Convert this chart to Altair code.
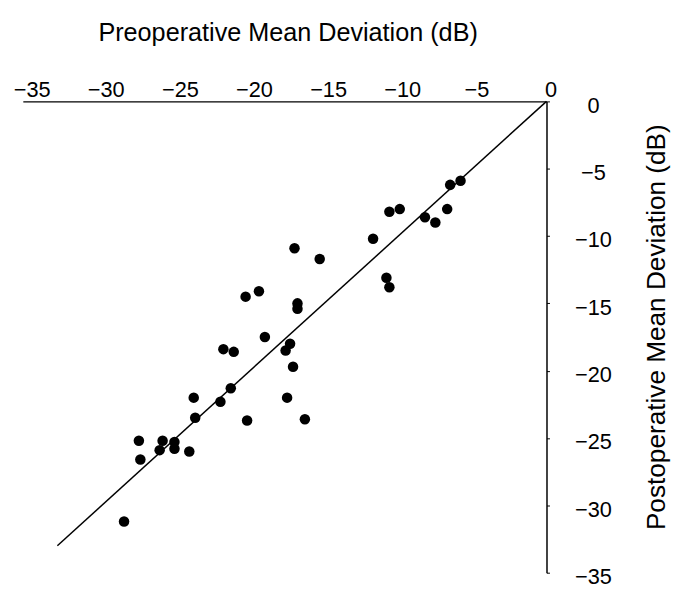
import altair as alt
import pandas as pd

pre_md = [-6.5, -5.8, -10.6, -9.9, -8.2, -7.5, -6.7, -11.7, -17.0, -15.3,
          -10.8, -10.6, -20.3, -19.4, -16.8, -16.8, -19.0, -21.8, -21.1, -17.3,
          -17.6, -17.1, -21.3, -23.8, -22.0, -17.5, -23.7, -20.2, -16.3, -27.5,
          -25.9, -25.1, -26.1, -25.1, -24.1, -27.4, -28.5]
post_md = [-6.2, -5.9, -8.2, -8.0, -8.6, -9.0, -8.0, -10.2, -10.9, -11.7,
           -13.1, -13.8, -14.5, -14.1, -15.0, -15.4, -17.5, -18.4, -18.6, -18.0,
           -18.5, -19.7, -21.3, -22.0, -22.3, -22.0, -23.5, -23.7, -23.6, -25.2,
           -25.2, -25.3, -25.9, -25.8, -26.0, -26.6, -31.2]

line_x = [0, -33]
line_y = [0, -33]

x_ticks = [-35, -30, -25, -20, -15, -10, -5, 0]
y_ticks = [0, -5, -10, -15, -20, -25, -30, -35]

pts = pd.DataFrame({"pre": pre_md, "post": post_md})
ln = pd.DataFrame({"pre": line_x, "post": line_y})

FONT = "Liberation Sans"

x_enc = alt.X(
    "pre:Q",
    scale=alt.Scale(domain=[-35.33, 0], nice=False, zero=False),
    axis=alt.Axis(
        orient="top", values=x_ticks, title="Preoperative Mean Deviation (dB)",
        tickSize=0, labelPadding=5, labelBaseline="alphabetic", labelOffset=4,
        labelFlush=False, labelOverlap=False, labelFontSize=22,
        titleFontSize=25.5, titleX=268, titleY=-62, titleBaseline="alphabetic",
    ),
)
y_enc = alt.Y(
    "post:Q",
    scale=alt.Scale(domain=[-35, 0], nice=False, zero=False),
    axis=alt.Axis(
        orient="right", values=y_ticks, title="Postoperative Mean Deviation (dB)",
        tickSize=3, tickColor="black", labelAlign="center", labelPadding=44,
        labelBaseline="middle", labelOffset=4, labelFlush=False, labelOverlap=False,
        labelFontSize=22, titleFontSize=26.5, titleAngle=270, titleX=119, titleY=228,
        titleBaseline="alphabetic",
    ),
)

points = alt.Chart(pts).mark_circle(size=113, color="black", opacity=1).encode(
    x=x_enc, y=y_enc
)
line = alt.Chart(ln).mark_line(color="black", strokeWidth=1.5).encode(
    x=x_enc, y=y_enc
)

chart = (
    alt.layer(line, points)
    .properties(
        width=530, height=477,
        autosize=alt.AutoSizeParams(type="none"),
        padding={"left": 15, "top": 91, "right": 126, "bottom": 14},
    )
    .configure_view(stroke=None)
    .configure_axis(
        grid=False, domainColor="black", domainWidth=1.5,
        labelFont=FONT, labelColor="black", titleFont=FONT,
        titleColor="black", titleFontWeight="normal",
    )
)

chart.save("out.html", embed_options={"renderer": "svg", "actions": False})
